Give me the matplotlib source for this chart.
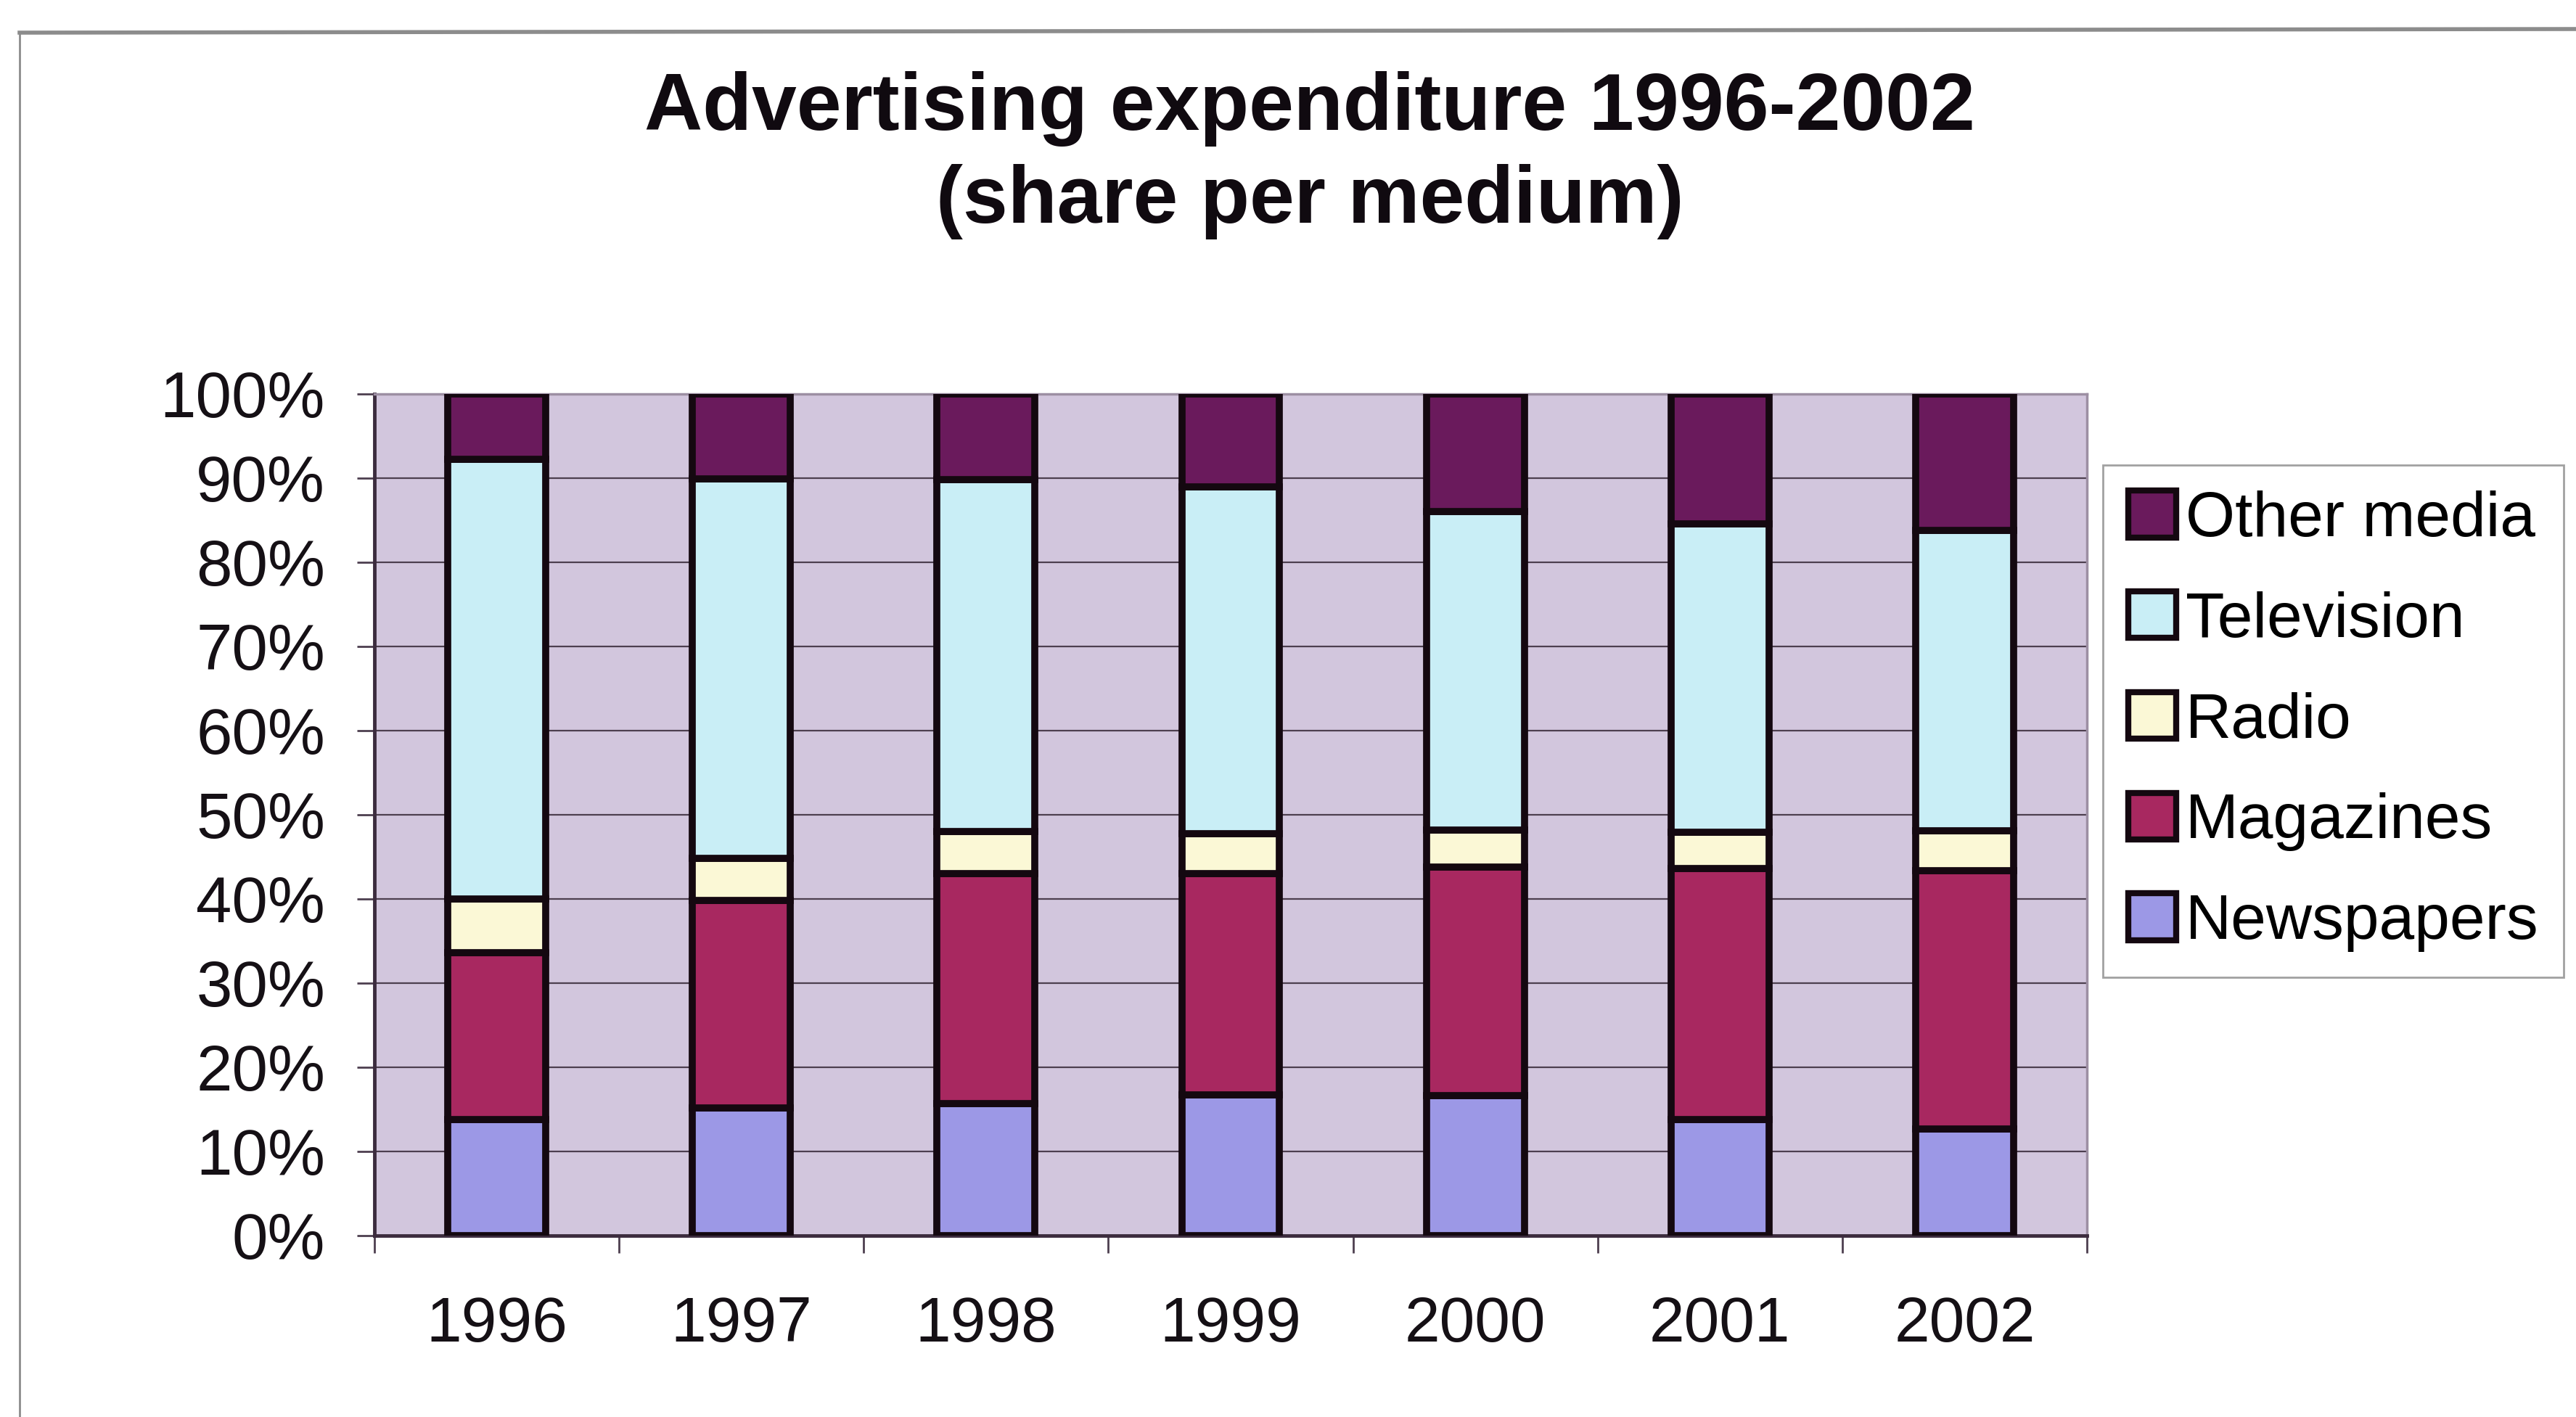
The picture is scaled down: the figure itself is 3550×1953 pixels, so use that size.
import numpy as np
import matplotlib.pyplot as plt
from matplotlib.lines import Line2D

plt.rcParams['font.family'] = ['Liberation Sans', 'DejaVu Sans']

years = ['1996', '1997', '1998', '1999', '2000', '2001', '2002']

# shares per medium in %, bottom to top of each bar
newspapers = [13.8, 15.2, 15.7, 16.7, 16.6, 13.8, 12.7]
magazines = [19.8, 24.6, 27.3, 26.3, 27.2, 29.8, 30.7]
radio = [6.4, 5.0, 5.0, 4.8, 4.4, 4.3, 4.7]
television = [52.2, 45.1, 41.8, 41.2, 37.8, 36.7, 35.7]
other_media = [7.8, 10.1, 10.2, 11.0, 14.0, 15.4, 16.2]

series = [
    ('Newspapers', newspapers, '#9C98E6'),
    ('Magazines', magazines, '#A82860'),
    ('Radio', radio, '#FBF8D6'),
    ('Television', television, '#C9EEF6'),
    ('Other media', other_media, '#6A1A5C'),
]

fig = plt.figure(figsize=(35.5, 19.53), dpi=100)
fig.patch.set_facecolor('white')
ax = fig.add_axes([516 / 3550, 1 - 1703 / 1953, 2360 / 3550, 1160 / 1953])
ax.set_facecolor('#D2C6DD')

x = np.arange(len(years))
bottom = np.zeros(len(years))
handles = []
for name, vals, color in series:
    vals = np.array(vals)
    b = ax.bar(x, vals, width=0.40, bottom=bottom, color=color,
               edgecolor='#140810', linewidth=7, label=name, zorder=3)
    handles.append(b)
    bottom += vals

ax.set_xlim(-0.5, len(years) - 0.5)
ax.set_ylim(0, 100)
ax.set_axisbelow(True)
ax.yaxis.grid(True, color='#4d3f4f', linewidth=1.6)

ax.set_yticks(np.arange(0, 101, 10))
ax.set_yticklabels([f'{v}%' for v in range(0, 101, 10)])
ax.set_xticks(x)
ax.set_xticklabels(years)
ax.set_xticks(np.arange(-0.5, len(years), 1), minor=True)
ax.tick_params(axis='x', which='major', length=0, pad=60, labelsize=63,
               labelcolor='#151015')
ax.tick_params(axis='x', which='minor', length=17, width=2, color='#4d3f4f',
               direction='out')
ax.tick_params(axis='y', length=17, width=2, color='#4d3f4f', pad=32,
               labelsize=64, labelcolor='#151015')

for side in ['left', 'bottom']:
    ax.spines[side].set_color('#3c2c3e')
    ax.spines[side].set_linewidth(3.5)
for side in ['top', 'right']:
    ax.spines[side].set_color('#9d8fa3')
    ax.spines[side].set_linewidth(2.5)

fig.text(1805 / 3550, 1 - 214 / 1953,
         'Advertising expenditure 1996-2002\n(share per medium)',
         ha='center', va='center', fontsize=80, fontweight='bold',
         linespacing=1.3, color='#100a10')

leg = ax.legend(handles[::-1], [s[0] for s in series][::-1],
                loc='upper left', bbox_to_anchor=(2898 / 3550, 1 - 641 / 1953),
                bbox_transform=fig.transFigure, fontsize=63,
                handlelength=0.75, handleheight=0.75, handletextpad=0.15,
                labelspacing=0.66, borderpad=0.4, borderaxespad=0,
                frameon=True, fancybox=False, edgecolor='#8a8a8a')
leg.get_frame().set_linewidth(2)
for h in leg.legend_handles:
    h.set_linewidth(6)

# outer chart frame
fig.add_artist(Line2D([27 / 3550, 1], [1 - 45 / 1953, 1 - 40 / 1953],
                      transform=fig.transFigure, color='#8c8c8c', linewidth=4))
fig.add_artist(Line2D([27 / 3550, 27 / 3550], [0, 1 - 45 / 1953],
                      transform=fig.transFigure, color='#8c8c8c', linewidth=2))

fig.savefig('out.png', dpi=100, facecolor='white')
